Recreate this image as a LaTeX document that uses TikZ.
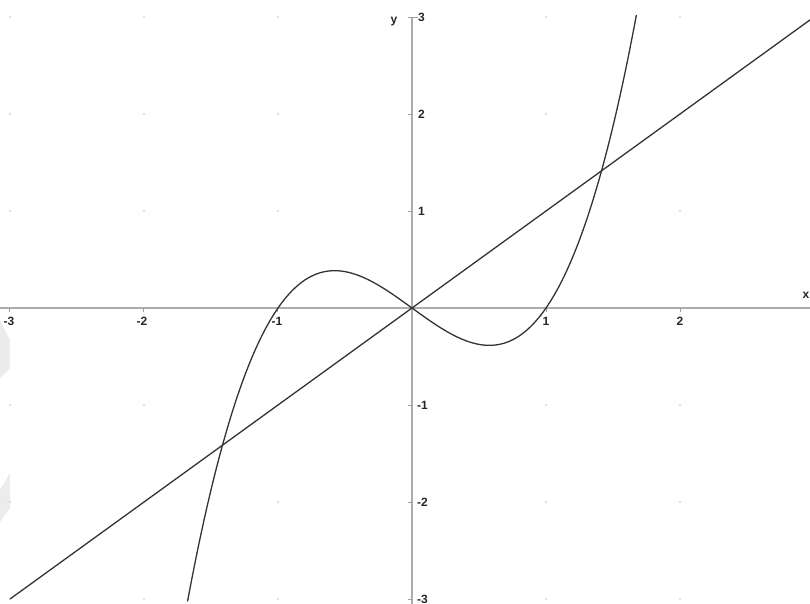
\documentclass[tikz,border=0pt]{standalone}
\usepackage{fontspec}
\setmainfont{Liberation Sans}
\begin{document}
\begin{tikzpicture}[x=134pt,y=97pt,
  axis/.style={draw=gray!65, line width=2.6pt},
  graph/.style={draw=black!80, line width=1.3pt},
  tickmark/.style={draw=gray!75, line width=1pt},
  ticklabel/.style={font=\bfseries\fontsize{12}{12}\selectfont, text=black!85, inner sep=1pt},
  axlabel/.style={font=\bfseries\fontsize{12}{12}\selectfont, text=black!85, inner sep=1pt},
  gdot/.style={fill=gray!25},
  wmark/.style={fill=gray!15, draw=none}]
\useasboundingbox (-3.0746,-3.0412) rectangle (2.9701,3.1753);
\clip (-3.0746,-3.0412) rectangle (2.9701,3.1753);
% faint watermark shapes (pixel coordinates)
\begin{scope}[x=1pt,y=-1pt,shift={(-412pt,308pt)}]
  \fill[wmark] (0,320) -- (10,340) -- (10,368) -- (0,378) -- cycle;
  \fill[wmark] (10,473) -- (10,508) -- (0,522) -- (0,490) -- cycle;
\end{scope}
% grid dots
\foreach \i in {-3,...,3}{
  \foreach \j in {-3,...,3}{
    \ifnum\i=0\relax\else\ifnum\j=0\relax\else
      \fill[gdot] (\i,\j) circle (1.3pt);
    \fi\fi
  }
}
% axes
\draw[axis] (-3.1,0) -- (3.1,0);
\draw[axis] (0,-3.1) -- (0,3);
\draw[tickmark] (0,3) -- ++(6pt,0);
\foreach \i in {-3,-2,-1,1,2,3}{
  \draw[tickmark] (\i,0) -- ++(0,-4pt);
  \draw[tickmark] (0,\i) -- ++(-4pt,0);
}
% tick labels
\node[ticklabel, anchor=north] (xm3) at ([xshift=-1pt,yshift=-8pt]-3,0) {-3};
\node[ticklabel, anchor=north] (xm2) at ([xshift=-2pt,yshift=-8pt]-2,0) {-2};
\node[ticklabel, anchor=north] (xm1) at ([xshift=-1pt,yshift=-8pt]-1,0) {-1};
\node[ticklabel, anchor=north] (xp1) at ([yshift=-8pt]1,0) {1};
\node[ticklabel, anchor=north] (xp2) at ([yshift=-8pt]2,0) {2};
\node[ticklabel, anchor=north] (xp3) at ([yshift=-8pt]3,0) {3};
\node[ticklabel, anchor=west] (ym3) at ([xshift=4pt]0,-3) {-3};
\node[ticklabel, anchor=west] (ym2) at ([xshift=4pt]0,-2) {-2};
\node[ticklabel, anchor=west] (ym1) at ([xshift=4pt]0,-1) {-1};
\node[ticklabel, anchor=west] (yp1) at ([xshift=5pt]0,1) {1};
\node[ticklabel, anchor=west] (yp2) at ([xshift=5pt]0,2) {2};
\node[ticklabel, anchor=west] (yp3) at ([xshift=5pt]0,3) {3};
% axis labels
\node[axlabel] (ylab) at (-0.134,2.948) {y};
\node[axlabel] (xlab) at (2.94,0.134) {x};
% graphs
\draw[graph] (-3,-3) -- (3,3);
\draw[graph, smooth, samples=200, domain=-1.675:1.675] plot (\x,{(\x)^3-(\x)});
\end{tikzpicture}
\end{document}
